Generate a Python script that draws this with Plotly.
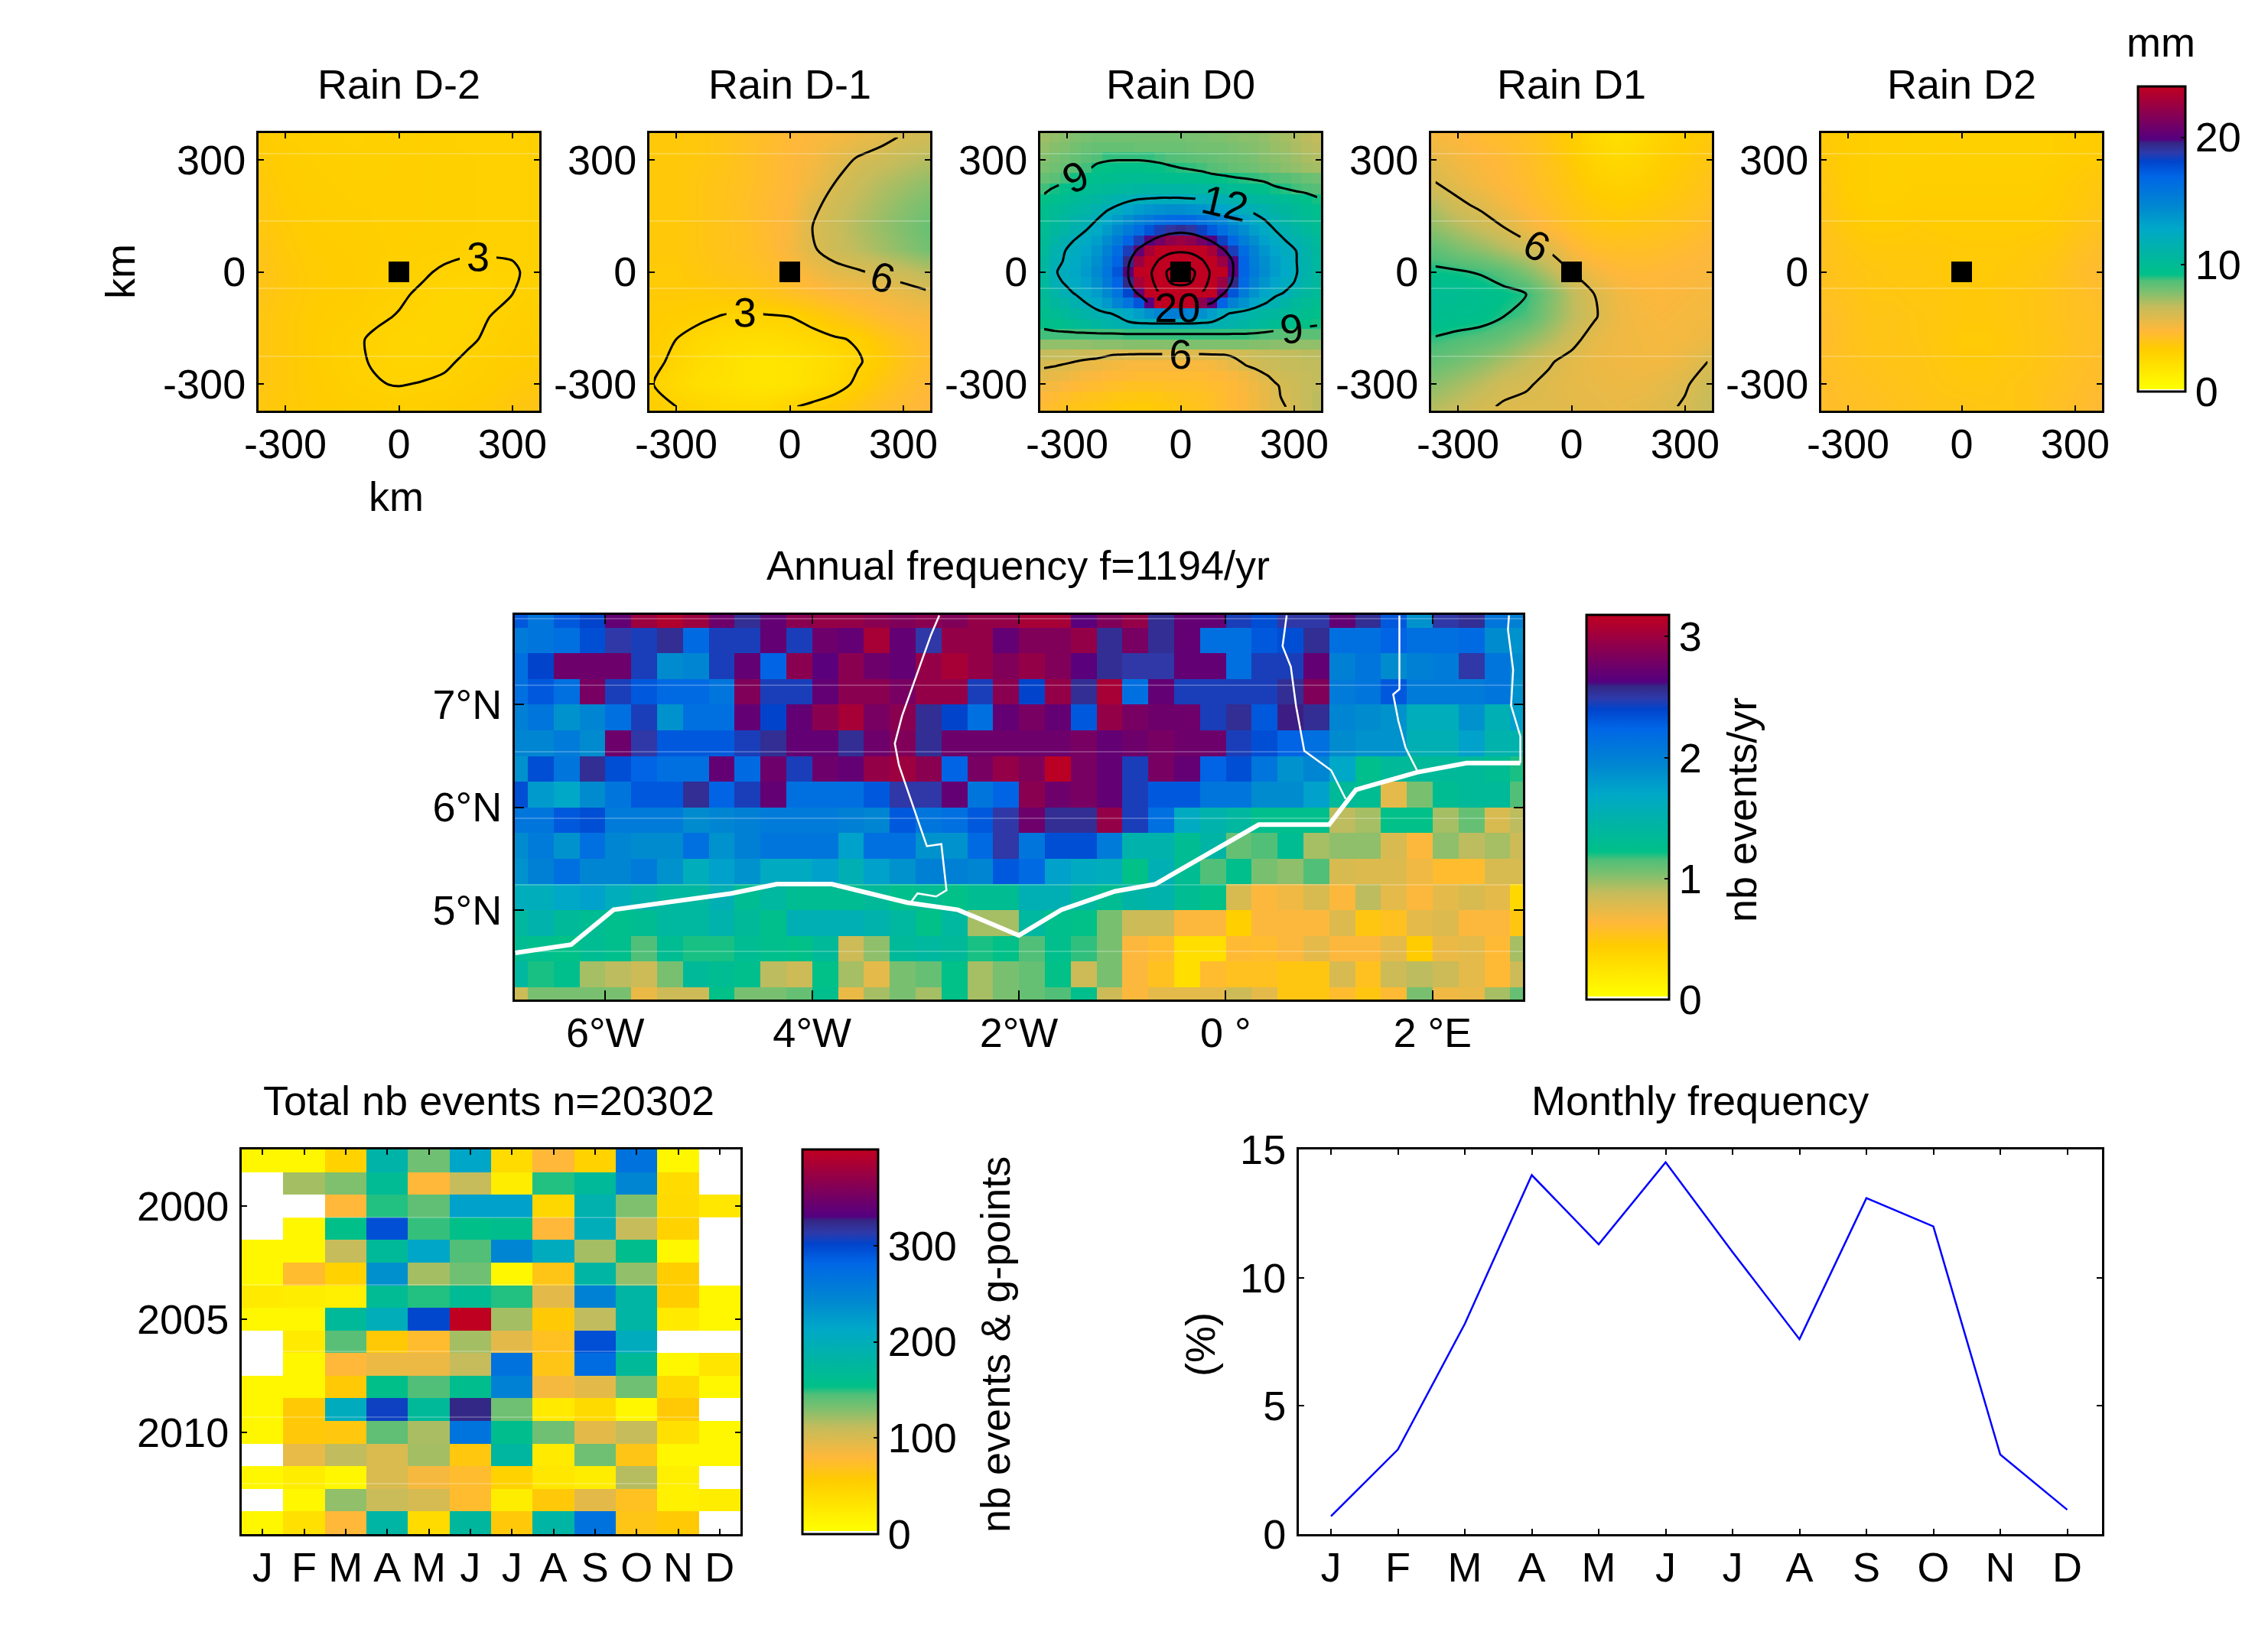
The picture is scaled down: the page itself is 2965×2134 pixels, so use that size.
import plotly.graph_objects as go

W, H = 2965, 2134
FONT = "Liberation Sans"
TXT = 54

MONTHS = ["J", "F", "M", "A", "M", "J", "J", "A", "S", "O", "N", "D"]
MONTH_NUM = [1, 2, 3, 4, 5, 6, 7, 8, 9, 10, 11, 12]
MONTHLY_PCT = [0.7, 3.3, 8.2, 14.0, 11.3, 14.5, 11.0, 7.6, 13.1, 12.0, 3.1, 0.95]
YEARS = [1998, 1999, 2000, 2001, 2002, 2003, 2004, 2005, 2006, 2007, 2008, 2009, 2010, 2011, 2012, 2013, 2014]

# events per month and year, top row is 1998
EVENTS = [
    [12, 12, 50, 185, 135, 215, 40, 80, 50, 268, 12, 0],
    [0, 120, 130, 165, 80, 110, 22, 150, 170, 245, 40, 0],
    [0, 0, 80, 150, 140, 220, 220, 45, 190, 130, 42, 28],
    [0, 12, 155, 295, 148, 155, 160, 80, 200, 110, 50, 0],
    [12, 12, 110, 170, 215, 145, 245, 205, 120, 160, 12, 0],
    [12, 75, 50, 235, 120, 135, 12, 65, 180, 125, 55, 0],
    [25, 22, 20, 165, 150, 165, 150, 95, 250, 180, 55, 12],
    [12, 12, 170, 200, 300, 400, 120, 58, 112, 180, 25, 12],
    [0, 25, 142, 58, 75, 120, 95, 70, 295, 205, 0, 0],
    [0, 12, 80, 90, 90, 110, 268, 65, 275, 170, 12, 30],
    [12, 12, 58, 155, 145, 160, 250, 85, 95, 135, 42, 12],
    [12, 58, 205, 305, 170, 325, 135, 25, 42, 12, 58, 0],
    [12, 60, 62, 140, 118, 265, 160, 135, 95, 110, 35, 12],
    [0, 92, 112, 100, 120, 62, 178, 25, 135, 65, 12, 12],
    [12, 22, 12, 100, 85, 75, 50, 28, 22, 115, 20, 0],
    [0, 12, 125, 108, 102, 75, 22, 60, 95, 70, 18, 22],
    [12, 35, 80, 180, 40, 175, 60, 180, 268, 65, 58, 0],
]

# nb events/yr on the 0.25 degree grid, top row is 7.875N, first column 6.875W
FREQ = [
    [2.3, 2.1, 2.3, 2.4, 2.7, 3.0, 3.1, 3.0, 2.75, 2.55, 2.7, 2.9, 2.95, 2.95, 2.9, 2.85, 2.9, 2.85, 2.95, 2.95, 3.05, 3.05, 2.65, 2.85, 2.95, 2.55, 2.7, 2.7, 2.45, 2.35, 2.5, 2.5, 2.7, 2.55, 2.3, 1.85, 2.5, 2.55, 2.1, 2.0],
    [2.05, 2.1, 2.15, 2.35, 2.5, 2.45, 2.55, 2.2, 2.45, 2.45, 2.7, 2.45, 2.75, 2.7, 3.05, 2.7, 2.5, 2.95, 2.95, 2.7, 2.85, 2.85, 2.95, 2.55, 2.8, 2.55, 2.7, 2.15, 2.15, 2.3, 2.35, 2.55, 2.15, 2.15, 2.25, 2.15, 2.15, 2.2, 1.9, 1.85],
    [2.15, 2.4, 2.75, 2.75, 2.75, 2.45, 1.9, 1.95, 2.45, 2.7, 2.25, 2.9, 2.65, 2.9, 2.75, 2.7, 2.95, 3.05, 2.95, 2.85, 2.95, 2.85, 2.65, 2.55, 2.5, 2.5, 2.7, 2.7, 2.15, 2.45, 2.45, 2.7, 2.0, 2.1, 1.9, 2.0, 2.05, 2.5, 2.1, 1.9],
    [2.15, 2.3, 2.15, 2.8, 2.45, 2.3, 2.2, 2.2, 2.1, 2.85, 2.45, 2.45, 2.7, 2.9, 2.9, 2.8, 2.95, 2.95, 2.45, 2.9, 2.4, 2.95, 2.55, 3.05, 2.15, 2.7, 2.45, 2.45, 2.45, 2.45, 2.55, 2.85, 2.05, 2.1, 2.3, 2.05, 2.05, 2.05, 2.1, 1.85],
    [2.0, 2.1, 1.85, 1.95, 2.15, 2.45, 1.85, 2.15, 2.15, 2.7, 2.4, 2.7, 2.9, 3.05, 2.8, 2.9, 2.55, 2.4, 2.15, 2.7, 2.8, 2.7, 2.3, 2.95, 2.8, 2.75, 2.75, 2.45, 2.55, 2.3, 2.6, 2.55, 1.95, 1.9, 1.85, 1.6, 1.6, 1.85, 1.55, 1.75],
    [1.95, 1.95, 2.05, 1.9, 2.75, 2.5, 2.3, 2.3, 2.3, 2.45, 2.55, 2.7, 2.7, 2.55, 2.75, 2.85, 2.55, 2.75, 2.75, 2.75, 2.75, 2.75, 2.8, 2.7, 2.75, 2.8, 2.75, 2.75, 2.45, 2.35, 2.25, 2.15, 1.9, 1.85, 1.85, 1.55, 1.55, 1.75, 1.5, 1.5],
    [1.85, 2.35, 2.1, 2.55, 2.35, 2.25, 2.15, 2.15, 2.7, 2.2, 2.75, 2.45, 2.75, 2.7, 2.95, 3.0, 2.9, 2.25, 2.8, 2.95, 2.85, 3.15, 2.8, 2.7, 2.45, 2.8, 2.7, 2.25, 2.35, 2.1, 1.85, 1.95, 1.7, 1.25, 1.35, 1.35, 1.35, 1.35, 1.3, 1.2],
    [2.35, 1.8, 1.7, 1.9, 2.1, 2.3, 2.3, 2.55, 2.25, 2.45, 2.7, 2.15, 2.15, 2.15, 2.3, 2.5, 2.5, 2.7, 2.1, 2.25, 2.9, 2.75, 2.8, 2.7, 2.45, 2.3, 2.3, 2.1, 2.1, 1.9, 1.9, 1.75, 1.35, 1.3, 0.75, 1.05, 1.3, 1.35, 1.35, 1.15],
    [2.1, 2.1, 2.3, 2.35, 2.05, 2.05, 2.05, 1.9, 1.95, 2.0, 2.05, 2.05, 2.05, 2.0, 1.95, 2.3, 2.1, 2.15, 2.3, 2.5, 2.75, 2.55, 2.55, 2.95, 2.45, 2.15, 1.65, 1.5, 1.4, 1.25, 1.25, 1.25, 0.9, 0.95, 1.22, 1.22, 0.95, 1.1, 0.8, 0.9],
    [1.9, 2.05, 1.85, 2.15, 1.95, 1.9, 1.9, 2.15, 1.85, 2.0, 2.1, 2.1, 2.1, 1.75, 2.15, 2.15, 1.85, 1.85, 2.2, 2.5, 2.1, 2.35, 2.35, 2.05, 1.5, 1.5, 1.3, 1.45, 1.1, 1.15, 1.3, 0.95, 1.0, 1.0, 0.8, 0.65, 1.0, 0.9, 0.95, 0.85],
    [1.85, 2.0, 2.15, 1.95, 1.95, 2.05, 1.85, 1.6, 1.75, 1.85, 1.65, 1.65, 1.75, 1.55, 1.75, 1.85, 2.0, 2.0, 1.95, 2.3, 2.2, 1.75, 1.65, 1.6, 1.22, 1.55, 1.3, 1.15, 1.25, 1.05, 1.0, 1.15, 0.8, 0.78, 0.78, 0.7, 0.6, 0.6, 0.8, 0.8],
    [1.6, 1.6, 1.7, 1.75, 1.6, 1.5, 1.4, 1.4, 1.55, 1.3, 1.4, 1.3, 1.3, 1.3, 1.35, 1.25, 1.3, 1.22, 1.3, 1.3, 1.55, 1.55, 1.4, 1.3, 1.45, 1.5, 1.3, 1.22, 0.8, 0.65, 0.7, 0.8, 0.65, 0.9, 0.75, 0.65, 0.75, 0.8, 0.75, 0.35],
    [1.4, 1.5, 1.35, 1.3, 1.25, 1.3, 1.4, 1.4, 1.5, 1.35, 1.25, 1.55, 1.55, 1.55, 1.5, 1.4, 1.22, 1.4, 0.95, 0.95, 1.4, 1.25, 1.22, 1.05, 0.85, 0.85, 0.65, 0.65, 0.42, 0.65, 0.65, 0.65, 0.78, 0.5, 0.55, 0.75, 0.78, 0.65, 0.65, 0.5],
    [1.3, 1.25, 1.22, 1.3, 1.25, 1.15, 1.3, 1.2, 1.2, 1.3, 1.25, 1.22, 1.35, 0.85, 1.0, 1.35, 1.4, 1.35, 1.2, 1.22, 1.15, 1.25, 1.18, 1.05, 0.65, 0.6, 0.3, 0.3, 0.62, 0.6, 0.65, 0.75, 0.65, 0.65, 0.75, 0.45, 0.72, 0.75, 0.62, 0.95],
    [1.4, 1.2, 1.25, 0.95, 0.9, 0.85, 1.05, 1.35, 1.3, 1.25, 0.9, 0.85, 1.22, 0.95, 0.75, 1.05, 1.1, 1.22, 0.95, 1.05, 1.1, 1.22, 0.85, 1.05, 0.65, 0.55, 0.3, 0.6, 0.55, 0.55, 0.5, 0.5, 0.8, 0.55, 0.85, 0.9, 0.85, 0.75, 0.62, 0.85],
    [0.85, 1.05, 1.05, 1.05, 1.05, 0.72, 0.85, 0.85, 1.22, 1.05, 1.05, 1.1, 1.25, 0.72, 0.95, 1.05, 0.95, 1.22, 0.95, 1.05, 1.1, 1.15, 1.25, 0.85, 0.65, 0.75, 0.75, 0.75, 0.85, 0.75, 0.5, 0.5, 0.6, 0.5, 0.62, 1.05, 0.7, 0.72, 0.95, 1.1],
]

COAST_LON = [-6.87, -6.33, -5.92, -5.29, -4.78, -4.34, -3.81, -3.08, -2.59, -2.0, -1.59, -1.07, -0.68, 0.32, 1.0, 1.26, 1.85, 2.33, 2.85]
COAST_LAT = [4.58, 4.66, 5.0, 5.09, 5.16, 5.25, 5.25, 5.07, 5.0, 4.75, 5.0, 5.18, 5.25, 5.83, 5.83, 6.17, 6.34, 6.43, 6.43]
BORDER_LON = [
    [-2.77, -2.85, -3.13, -3.2, -3.16, -2.89, -2.75, -2.7, -2.8, -2.98, -3.04],
    [0.59, 0.55, 0.63, 0.68, 0.76, 1.02, 1.16],
    [1.68, 1.68, 1.62, 1.67, 1.74, 1.85],
    [2.74, 2.73, 2.78, 2.76, 2.85, 2.85],
]
BORDER_LAT = [
    [7.87, 7.68, 6.89, 6.62, 6.41, 5.62, 5.64, 5.19, 5.13, 5.16, 5.08],
    [7.87, 7.57, 7.37, 6.99, 6.55, 6.36, 6.08],
    [7.87, 7.15, 7.1, 6.84, 6.58, 6.36],
    [7.87, 7.73, 7.34, 6.99, 6.69, 6.43],
]

# composite rain in mm, rows from +360 km down to -360 km
RAIN_KM = [-360, -300, -240, -180, -120, -60, 0, 60, 120, 180, 240, 300, 360]
RAIN_M2 = [
    [3.4, 3.2, 3.15, 3.1, 3.05, 3.1, 3.1, 3.15, 3.1, 3.05, 3.05, 3.05, 3.1],
    [3.5, 3.3, 3.2, 3.15, 3.1, 3.1, 3.15, 3.15, 3.1, 3.1, 3.05, 3.05, 3.1],
    [3.6, 3.35, 3.25, 3.2, 3.15, 3.15, 3.15, 3.15, 3.1, 3.1, 3.05, 3.05, 3.1],
    [3.7, 3.4, 3.3, 3.25, 3.2, 3.2, 3.15, 3.15, 3.1, 3.1, 3.05, 3.05, 3.1],
    [3.7, 3.5, 3.35, 3.3, 3.25, 3.2, 3.15, 3.15, 3.1, 3.1, 3.05, 3.05, 3.1],
    [3.9, 3.55, 3.4, 3.35, 3.3, 3.25, 3.15, 3.1, 3.1, 3.05, 3.05, 3.05, 3.1],
    [4.0, 3.65, 3.45, 3.4, 3.35, 3.2, 3.1, 3.05, 2.95, 2.9, 2.9, 2.95, 3.1],
    [3.9, 3.65, 3.45, 3.35, 3.3, 3.15, 3.05, 2.95, 2.8, 2.8, 2.85, 3.0, 3.1],
    [3.8, 3.55, 3.4, 3.3, 3.2, 3.05, 2.98, 2.85, 2.8, 2.8, 3.0, 3.1, 3.2],
    [3.8, 3.55, 3.4, 3.2, 3.05, 2.95, 2.8, 2.75, 2.8, 2.95, 3.05, 3.2, 3.3],
    [3.8, 3.55, 3.4, 3.2, 3.05, 2.97, 2.85, 2.85, 2.95, 3.05, 3.2, 3.3, 3.4],
    [3.8, 3.55, 3.4, 3.3, 3.1, 3.02, 2.98, 3.02, 3.05, 3.2, 3.3, 3.5, 3.6],
    [3.7, 3.55, 3.45, 3.35, 3.3, 3.2, 3.2, 3.2, 3.3, 3.4, 3.5, 3.7, 3.9],
]
RAIN_M1 = [
    [3.6, 3.6, 3.7, 3.9, 4.2, 4.4, 4.7, 4.9, 5.1, 5.4, 5.7, 6.1, 6.3],
    [3.6, 3.6, 3.7, 3.9, 4.2, 4.5, 4.8, 5.1, 5.6, 6.1, 6.4, 6.7, 6.9],
    [3.6, 3.6, 3.8, 4.0, 4.2, 4.5, 4.8, 5.3, 6.0, 6.5, 6.9, 7.2, 7.5],
    [3.6, 3.6, 3.8, 4.0, 4.3, 4.6, 4.9, 5.8, 6.3, 6.8, 7.2, 7.6, 7.9],
    [3.6, 3.6, 3.8, 4.0, 4.2, 4.6, 5.0, 6.0, 6.5, 7.0, 7.4, 7.8, 8.2],
    [3.6, 3.6, 3.8, 4.0, 4.2, 4.5, 5.1, 5.9, 6.4, 6.8, 7.2, 7.6, 8.0],
    [3.5, 3.5, 3.7, 3.9, 4.0, 4.3, 4.7, 5.2, 5.7, 5.9, 6.2, 6.5, 6.8],
    [3.5, 3.5, 3.5, 3.6, 3.7, 3.9, 4.2, 4.5, 4.8, 5.0, 5.2, 5.5, 5.8],
    [3.4, 3.3, 3.2, 2.95, 2.8, 2.9, 3.0, 3.4, 3.8, 4.2, 4.6, 4.9, 5.0],
    [3.3, 3.0, 2.6, 2.4, 2.3, 2.3, 2.4, 2.6, 2.9, 3.1, 3.7, 4.2, 4.6],
    [3.2, 2.8, 2.4, 2.2, 1.9, 1.8, 1.9, 2.1, 2.4, 2.9, 3.4, 4.0, 4.5],
    [3.0, 2.5, 2.2, 2.1, 1.9, 1.8, 1.9, 2.2, 2.6, 3.2, 3.8, 4.3, 4.7],
    [3.3, 3.0, 2.8, 2.6, 2.5, 2.5, 2.9, 3.2, 3.5, 3.9, 4.3, 4.6, 4.9],
]
RAIN_P1 = [
    [5.0, 4.9, 4.6, 4.4, 4.2, 3.8, 3.3, 2.6, 2.2, 2.5, 3.0, 3.3, 3.6],
    [5.6, 5.2, 4.9, 4.7, 4.4, 4.0, 3.5, 2.9, 2.6, 2.8, 3.2, 3.5, 3.8],
    [6.0, 5.6, 5.1, 4.8, 4.5, 4.1, 3.7, 3.2, 3.0, 3.1, 3.4, 3.7, 4.0],
    [6.9, 6.2, 5.8, 5.2, 4.7, 4.3, 3.9, 3.6, 3.4, 3.5, 3.7, 3.9, 4.2],
    [7.5, 7.0, 6.5, 6.0, 5.3, 4.7, 4.2, 3.9, 3.8, 3.9, 4.0, 4.2, 4.5],
    [8.4, 7.9, 7.5, 7.0, 6.5, 5.9, 4.9, 4.4, 4.3, 4.3, 4.4, 4.6, 4.8],
    [9.2, 9.1, 8.9, 8.5, 7.8, 6.9, 6.0, 5.2, 4.8, 4.7, 4.8, 4.9, 5.0],
    [9.9, 9.8, 9.6, 9.3, 9.0, 7.9, 6.8, 6.0, 5.3, 5.0, 4.9, 5.0, 5.1],
    [9.7, 9.5, 9.4, 9.0, 8.7, 7.7, 6.8, 6.1, 5.4, 5.1, 5.0, 5.1, 5.2],
    [8.9, 8.7, 8.5, 8.2, 7.6, 7.0, 6.3, 5.6, 5.3, 5.2, 5.1, 5.2, 5.4],
    [8.3, 8.0, 7.6, 7.1, 6.6, 6.1, 5.7, 5.4, 5.3, 5.2, 5.2, 5.5, 6.0],
    [7.6, 7.2, 6.8, 6.3, 6.1, 5.8, 5.6, 5.5, 5.4, 5.4, 5.6, 5.9, 6.4],
    [6.9, 6.6, 6.2, 5.9, 5.8, 5.8, 5.7, 5.6, 5.5, 5.6, 5.8, 6.1, 6.6],
]
RAIN_P2 = [
    [3.5, 3.3, 3.2, 3.2, 3.1, 3.1, 3.1, 3.1, 3.1, 3.1, 3.2, 3.3, 3.4],
    [3.6, 3.3, 3.2, 3.1, 3.1, 3.2, 3.1, 3.1, 3.1, 3.1, 3.2, 3.3, 3.5],
    [3.8, 3.3, 3.2, 3.1, 3.2, 3.2, 3.2, 3.2, 3.2, 3.2, 3.3, 3.5, 3.7],
    [3.9, 3.4, 3.2, 3.2, 3.3, 3.3, 3.3, 3.3, 3.3, 3.3, 3.4, 3.6, 3.8],
    [4.0, 3.6, 3.4, 3.4, 3.5, 3.4, 3.4, 3.4, 3.4, 3.4, 3.5, 3.8, 4.1],
    [4.1, 3.8, 3.6, 3.6, 3.6, 3.6, 3.5, 3.5, 3.5, 3.6, 3.7, 4.1, 4.4],
    [4.1, 3.9, 3.8, 3.7, 3.7, 3.6, 3.5, 3.5, 3.6, 3.7, 3.9, 4.3, 4.6],
    [4.2, 4.0, 3.8, 3.8, 3.7, 3.7, 3.6, 3.6, 3.7, 3.8, 4.0, 4.2, 4.4],
    [4.4, 4.1, 3.9, 3.9, 3.8, 3.7, 3.6, 3.6, 3.7, 3.8, 4.0, 4.2, 4.3],
    [4.5, 4.1, 3.9, 3.9, 3.8, 3.7, 3.5, 3.5, 3.6, 3.8, 3.9, 4.2, 4.3],
    [4.3, 4.1, 4.0, 3.9, 3.9, 3.7, 3.6, 3.6, 3.7, 3.8, 4.0, 4.2, 4.4],
    [4.4, 4.2, 4.1, 4.0, 3.9, 3.8, 3.7, 3.7, 3.8, 3.9, 4.1, 4.3, 4.5],
    [4.4, 4.3, 4.2, 4.1, 4.0, 3.9, 3.9, 3.8, 3.8, 3.9, 4.2, 4.4, 4.7],
]
# day 0 is blocky in the picture, so it keeps the finer grid
RAIN_KM_FINE = [-361, -333, -305, -278, -250, -222, -194, -167, -139, -111, -83, -56, -28, 0,
                28, 56, 83, 111, 139, 167, 194, 222, 250, 278, 305, 333, 361]
RAIN_0 = [
    [7.3, 7.5, 7.6, 7.8, 7.9, 8.0, 8.0, 8.0, 8.0, 8.0, 8.0, 8.0, 8.0, 8.0, 7.9, 7.9, 7.8, 7.8, 7.7, 7.6, 7.6, 7.5, 7.3, 7.2, 7.0, 6.8, 6.7],
    [7.5, 7.7, 7.8, 8.0, 8.2, 8.3, 8.3, 8.3, 8.3, 8.2, 8.2, 8.2, 8.2, 8.2, 8.1, 8.0, 8.0, 8.0, 7.9, 7.8, 7.7, 7.6, 7.4, 7.3, 7.1, 6.9, 6.8],
    [7.7, 7.9, 8.1, 8.3, 8.5, 8.7, 8.9, 8.9, 8.9, 8.9, 8.9, 8.8, 8.7, 8.6, 8.5, 8.4, 8.3, 8.2, 8.1, 8.0, 7.9, 7.7, 7.6, 7.5, 7.3, 7.1, 7.0],
    [7.9, 8.1, 8.3, 8.5, 8.8, 9.2, 9.2, 9.3, 9.3, 9.3, 9.2, 9.2, 9.1, 9.0, 8.9, 8.8, 8.6, 8.5, 8.3, 8.2, 8.1, 7.9, 7.8, 7.6, 7.5, 7.3, 7.2],
    [8.3, 8.5, 8.8, 9.1, 9.3, 9.5, 9.6, 9.7, 9.8, 9.8, 9.8, 9.7, 9.6, 9.6, 9.5, 9.4, 9.3, 9.2, 9.1, 9.0, 8.9, 8.8, 8.7, 8.6, 8.4, 8.2, 8.1],
    [8.8, 9.1, 9.4, 9.6, 9.8, 10.0, 10.2, 10.4, 10.6, 10.7, 10.8, 10.8, 10.8, 10.8, 10.7, 10.6, 10.4, 10.2, 10.0, 9.8, 9.6, 9.4, 9.1, 9.0, 8.8, 8.7, 8.6],
    [9.2, 9.5, 9.8, 10.1, 10.4, 10.7, 11.1, 11.4, 11.7, 12.0, 12.1, 12.2, 12.2, 12.2, 12.1, 12.0, 11.9, 11.7, 11.4, 11.0, 10.7, 10.4, 10.2, 9.9, 9.7, 9.4, 9.1],
    [9.5, 9.9, 10.3, 10.6, 11.0, 11.4, 11.9, 12.4, 13.0, 13.4, 13.8, 14.0, 14.2, 14.2, 14.0, 13.8, 13.4, 13.0, 12.5, 12.1, 11.7, 11.3, 10.9, 10.5, 10.1, 9.8, 9.5],
    [9.7, 10.2, 10.7, 11.1, 11.5, 12.0, 12.8, 13.5, 14.2, 15.0, 15.6, 16.2, 16.6, 16.8, 16.6, 16.0, 15.4, 14.8, 14.0, 13.2, 12.5, 12.0, 11.4, 10.9, 10.4, 10.0, 9.7],
    [9.9, 10.5, 11.0, 11.5, 12.0, 12.7, 13.5, 14.5, 15.5, 16.5, 17.5, 18.5, 19.0, 19.3, 19.0, 18.3, 17.3, 16.3, 15.2, 14.3, 13.3, 12.6, 12.0, 11.4, 10.8, 10.4, 10.0],
    [10.1, 11.0, 11.6, 12.1, 12.6, 13.3, 14.3, 15.5, 17.0, 18.5, 19.8, 21, 22, 22.5, 22, 21, 19.8, 18.3, 16.8, 15.3, 14.2, 13.2, 12.5, 12.0, 11.4, 10.8, 10.3],
    [10.3, 11.4, 12.0, 12.4, 13.0, 13.8, 15.0, 16.5, 18.5, 20.5, 23, 26, 28, 29, 28, 26, 23, 20.5, 18.5, 16.5, 15.0, 13.8, 13.0, 12.4, 12.0, 11.1, 10.5],
    [10.5, 11.7, 12.1, 12.6, 13.3, 14.2, 15.5, 17.0, 19.5, 22.5, 26, 31, 36, 38, 36, 31, 26, 22.5, 19.8, 17.0, 15.3, 14.2, 13.3, 12.6, 12.05, 11.2, 10.6],
    [10.6, 11.9, 12.3, 12.8, 13.5, 14.5, 15.8, 17.5, 20, 24, 28, 36, 42, 45, 42, 36, 28, 24, 20, 17, 15.5, 14.3, 13.4, 12.7, 12.1, 11.2, 10.6],
    [10.4, 11.7, 12.1, 12.5, 13.2, 14.1, 15.5, 17.0, 19.5, 23, 27, 34, 40, 42, 40, 34, 27, 22.5, 19.5, 16.7, 15.0, 13.9, 13.0, 12.4, 11.9, 11.0, 10.5],
    [10.2, 11.0, 11.7, 12.1, 12.7, 13.4, 14.6, 16.0, 18.0, 20.5, 25, 30, 33, 35, 33, 30, 25, 20.5, 17.5, 15.5, 14.0, 13.0, 12.3, 11.9, 11.1, 10.5, 10.1],
    [9.9, 10.5, 11.0, 11.5, 12.0, 12.8, 13.6, 14.8, 16.0, 17.5, 20, 24, 25, 25, 24, 22, 20, 17, 15, 14, 13, 12.1, 11.5, 10.9, 10.3, 10.0, 9.7],
    [9.6, 9.9, 10.3, 10.7, 11.1, 11.5, 11.9, 12.2, 12.7, 13.3, 14.1, 14.8, 15.2, 15.2, 14.8, 14.1, 13.3, 12.3, 11.8, 11.4, 11.0, 10.7, 10.5, 10.2, 9.9, 9.6, 9.4],
    [9.2, 9.4, 9.6, 9.9, 10.2, 10.7, 11.1, 11.5, 11.8, 11.9, 11.9, 11.9, 11.9, 11.9, 11.9, 11.8, 11.7, 11.5, 11.2, 10.9, 10.6, 10.2, 9.8, 9.5, 9.3, 9.2, 9.1],
    [8.8, 8.8, 8.8, 8.8, 8.8, 8.8, 8.8, 8.8, 8.9, 8.9, 8.9, 8.9, 8.9, 8.9, 8.9, 8.9, 8.9, 8.9, 8.9, 8.9, 8.8, 8.7, 8.6, 8.5, 8.5, 8.5, 8.5],
    [7.5, 7.5, 7.5, 7.5, 7.5, 7.6, 7.6, 7.6, 7.7, 7.7, 7.7, 7.7, 7.7, 7.8, 7.8, 7.8, 7.8, 7.8, 7.8, 7.8, 7.7, 7.7, 7.6, 7.6, 7.5, 7.5, 7.5],
    [6.6, 6.6, 6.6, 6.5, 6.4, 6.3, 6.1, 5.95, 5.9, 5.85, 5.85, 5.85, 5.85, 5.85, 5.85, 5.85, 5.9, 5.95, 6.1, 6.3, 6.5, 6.6, 6.6, 6.7, 6.7, 6.8, 6.8],
    [6.1, 6.05, 5.9, 5.7, 5.5, 5.4, 5.2, 5.1, 5.0, 5.0, 5.0, 5.0, 5.0, 5.0, 5.0, 5.0, 5.1, 5.3, 5.6, 5.95, 6.2, 6.4, 6.5, 6.6, 6.6, 6.7, 6.7],
    [5.7, 5.5, 5.4, 5.2, 5.0, 4.9, 4.8, 4.7, 4.7, 4.6, 4.6, 4.6, 4.6, 4.6, 4.6, 4.6, 4.7, 4.8, 5.0, 5.2, 5.5, 5.9, 6.2, 6.4, 6.5, 6.6, 6.7],
    [5.2, 5.1, 4.9, 4.7, 4.6, 4.5, 4.4, 4.3, 4.2, 4.2, 4.2, 4.2, 4.3, 4.3, 4.3, 4.4, 4.5, 4.6, 4.7, 5.0, 5.3, 5.6, 5.9, 6.2, 6.4, 6.6, 6.7],
    [4.8, 4.6, 4.4, 4.2, 4.1, 4.0, 3.9, 3.8, 3.8, 3.7, 3.7, 3.8, 3.9, 4.0, 4.1, 4.2, 4.3, 4.5, 4.7, 4.9, 5.2, 5.5, 5.9, 6.1, 6.4, 6.6, 6.8],
    [4.6, 4.4, 4.2, 4.0, 3.9, 3.8, 3.7, 3.6, 3.5, 3.5, 3.5, 3.6, 3.7, 3.9, 4.0, 4.1, 4.3, 4.5, 4.7, 4.9, 5.2, 5.5, 5.8, 6.0, 6.3, 6.6, 6.8],
]

# the white-floor map used by all the panels
RAINBOW = [[0, "#ffffff"], [0.007, "#ffffff"], [0.008, "#ffff00"], [0.14, "#ffcc00"], [0.2, "#ffb83a"],
           [0.278, "#c4bc5c"], [0.33, "#78c070"], [0.363, "#50bf78"], [0.384, "#00c088"], [0.463, "#00b3a8"],
           [0.534, "#00a8c8"], [0.605, "#0088d0"], [0.705, "#0066e6"], [0.754, "#0044cc"], [0.783, "#2e3aaa"],
           [0.815, "#352684"], [0.826, "#550080"], [1, "#c00020"]]


def span_x(left, right):
    return [left / W, right / W]


def span_y(top, bottom):
    return [1 - bottom / H, 1 - top / H]


def add_axes(fig, n, box, xrange, yrange, xticks, xlabels, yticks, ylabels, ticklen=7):
    common = dict(showgrid=False, zeroline=False, showline=True, linecolor="black", linewidth=3, mirror="ticks",
                  ticks="inside", ticklen=ticklen, tickwidth=2, tickcolor="black",
                  tickfont=dict(size=TXT, color="black", family=FONT))
    suffix = "" if n == 1 else str(n)
    fig.layout["xaxis" + suffix] = dict(common, domain=span_x(box[0], box[2]), range=xrange, anchor="y" + suffix,
                                        tickmode="array", tickvals=xticks, ticktext=xlabels, ticklabelstandoff=-6)
    fig.layout["yaxis" + suffix] = dict(common, domain=span_y(box[1], box[3]), range=yrange, anchor="x" + suffix,
                                        tickmode="array", tickvals=yticks, ticktext=ylabels, ticklabelstandoff=3)
    return dict(xaxis="x" + suffix, yaxis="y" + suffix)


def colorbar(left, top, length, thick, ticks):
    return dict(x=left / W, xanchor="left", y=1 - top / H, yanchor="top", xpad=0, ypad=0, len=length, lenmode="pixels",
                thickness=thick, thicknessmode="pixels", outlinewidth=3, outlinecolor="black", ticks="inside",
                ticklen=7, tickwidth=2, tickcolor="black", tickvals=ticks, tickfont=dict(size=TXT, color="black", family=FONT))


def seams(left, right, rows):
    # faint white scan lines that run through the panels of the picture
    return [dict(type="line", xref="paper", yref="paper", x0=left / W, x1=right / W, y0=1 - r / H, y1=1 - r / H,
                 line=dict(color="rgba(255,255,255,0.45)", width=1)) for r in rows]


fig = go.Figure()
shapes = []

# --- top row of composite rain maps
TOP, BOTTOM = 174, 537
panels = [("Rain D-2", 338, RAIN_KM, RAIN_M2), ("Rain D-1", 849, RAIN_KM, RAIN_M1),
          ("Rain D0", 1360, RAIN_KM_FINE, RAIN_0), ("Rain D1", 1871, RAIN_KM, RAIN_P1),
          ("Rain D2", 2381, RAIN_KM, RAIN_P2)]
notes = []
KM_TICKS = [-300, 0, 300]
KM_LABELS = ["-300", "0", "300"]
for i, (title, left, km, rain) in enumerate(panels):
    ax = add_axes(fig, i + 1, (left, TOP, left + 367, BOTTOM), [-371, 371], [-371, 371], KM_TICKS, KM_LABELS, KM_TICKS, KM_LABELS)
    extra = dict(colorbar=colorbar(2795, 113, 399, 62, [0, 10, 20]), showscale=True) if i == 4 else dict(showscale=False)
    fig.add_trace(go.Heatmap(x=km, y=km, z=rain[::-1], zmin=0, zmax=24, colorscale=RAINBOW,
                             zsmooth=False if km is RAIN_KM_FINE else "best", **ax, **extra))
    label_style = dict(coloring="none", showlabels=True, labelformat=".0f", labelfont=dict(size=54, color="black", family=FONT))
    # D1 has no 3 mm line in the picture, it starts at 6
    first_level = 6 if rain is RAIN_P1 else 3
    fig.add_trace(go.Contour(x=km, y=km, z=rain[::-1], autocontour=False, showscale=False,
                             contours=dict(label_style, start=first_level, end=12, size=3),
                             line=dict(color="black", width=3, smoothing=0.8), **ax))
    if km is RAIN_KM_FINE:
        fig.add_trace(go.Contour(x=km, y=km, z=rain[::-1], autocontour=False, showscale=False,
                                 contours=dict(label_style, start=20, end=40, size=10),
                                 line=dict(color="black", width=3), **ax))
    fig.add_trace(go.Scatter(x=[0], y=[0], mode="markers", marker=dict(symbol="square", size=27, color="black"), **ax))
    notes.append((title, left + 183, 110, 0))
    shapes += seams(left, left + 367, [201, 289, 377, 466])

# --- annual frequency map
ax = add_axes(fig, 6, (673, 804, 1991, 1307), [-6.875, 2.875], [4.125, 7.875],
              [-6, -4, -2, 0, 2], ["6°W", "4°W", "2°W", "0 °", "2 °E"], [5, 6, 7], ["5°N", "6°N", "7°N"], ticklen=12)
fig.add_trace(go.Heatmap(z=FREQ[::-1], x0=-6.875, dx=0.25, y0=4.125, dy=0.25, zmin=0, zmax=3.18, colorscale=RAINBOW,
                         colorbar=colorbar(2074, 804, 503, 108, [0, 1, 2, 3]), **ax))
for lon, lat in zip(BORDER_LON, BORDER_LAT):
    fig.add_trace(go.Scatter(x=lon, y=lat, mode="lines", line=dict(color="white", width=2.5), **ax))
fig.add_trace(go.Scatter(x=COAST_LON, y=COAST_LAT, mode="lines", line=dict(color="white", width=6), **ax))
shapes += seams(673, 1991, [809, 896, 983, 1070, 1157, 1244])

# --- events per month and year
ax = add_axes(fig, 7, (316, 1503, 968, 2006), [0.5, 12.5], [2014.5, 1997.5], MONTH_NUM, MONTHS,
              [2000, 2005, 2010], ["2000", "2005", "2010"])
fig.add_trace(go.Heatmap(x=MONTH_NUM, y=YEARS, z=EVENTS, zmin=0, zmax=400, colorscale=RAINBOW,
                         colorbar=colorbar(1049, 1503, 503, 99, [0, 100, 200, 300]), **ax))
shapes += seams(316, 968, [1592, 1680, 1767, 1853, 1940])

# --- monthly frequency
ax = add_axes(fig, 8, (1698, 1503, 2748, 2006), [0.52, 12.52], [0, 15], MONTH_NUM, MONTHS,
              [0, 5, 10, 15], ["0", "5", "10", "15"])
fig.add_trace(go.Scatter(x=MONTH_NUM, y=MONTHLY_PCT, mode="lines", line=dict(color="#0000ff", width=2.5), **ax))

notes += [("mm", 2825, 55, 0), ("km", 157, 355, -90), ("km", 518, 649, 0),
          ("Annual frequency f=1194/yr", 1331, 739, 0), ("nb events/yr", 2277, 1059, -90),
          ("Total nb events n=20302", 639, 1439, 0), ("nb events & g-points", 1301, 1758, -90),
          ("Monthly frequency", 2222, 1439, 0), ("(%)", 1569, 1758, -90)]
for text, x, y, angle in notes:
    fig.add_annotation(text=text, x=x / W, y=1 - y / H, xref="paper", yref="paper", showarrow=False, textangle=angle,
                       xanchor="center", yanchor="middle", font=dict(size=TXT, color="black", family=FONT))

fig.update_traces(hoverinfo="skip")
fig.update_layout(width=W, height=H, autosize=False, margin=dict(l=0, r=0, t=0, b=0, autoexpand=False), showlegend=False,
                  paper_bgcolor="white", plot_bgcolor="white", font=dict(family=FONT, size=TXT, color="black"), shapes=shapes)
fig.write_html("out.html", config={"displayModeBar": False}, post_script="document.body.style.margin='0';")
